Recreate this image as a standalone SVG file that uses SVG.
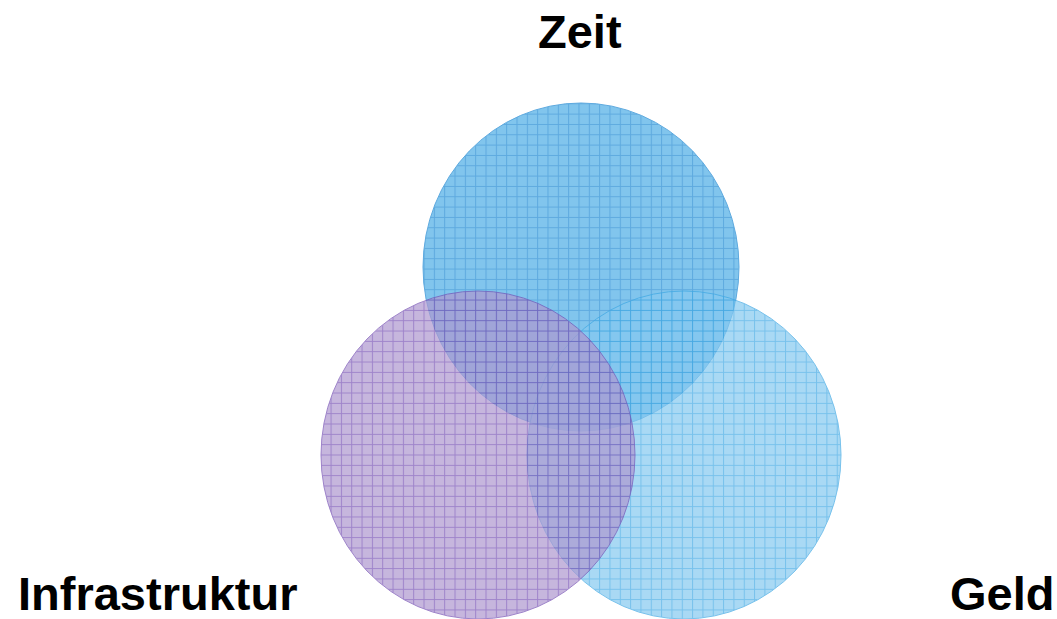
<svg xmlns="http://www.w3.org/2000/svg" width="1057" height="619" viewBox="0 0 1057 619">
  <style>
    .lbl { font-family: "Liberation Sans", Arial, sans-serif; font-weight: bold; font-size: 47px; fill: #000; }
    .c { opacity: 0.7; }
  </style>
  <defs>
    <pattern id="pTop" width="10.33" height="10.33" patternUnits="userSpaceOnUse">
      <rect width="10.33" height="10.33" fill="#4cade6"/>
      <path d="M0 0.5H10.33M0.5 0V10.33" stroke="#1a86d2" stroke-width="1"/>
    </pattern>
    <pattern id="pLeft" width="10.33" height="10.33" patternUnits="userSpaceOnUse">
      <rect width="10.33" height="10.33" fill="#ae98d0"/>
      <path d="M0 0.5H10.33M0.5 0V10.33" stroke="#7650b4" stroke-width="1"/>
    </pattern>
    <pattern id="pRight" width="10.33" height="10.33" patternUnits="userSpaceOnUse">
      <rect width="10.33" height="10.33" fill="#86c9f0"/>
      <path d="M0 0.5H10.33M0.5 0V10.33" stroke="#3ea8e4" stroke-width="1"/>
    </pattern>
  </defs>
  <rect width="1057" height="619" fill="#fff"/>
  <g id="zeit">
    <ellipse class="c" cx="581" cy="267" rx="158" ry="164" fill="url(#pTop)" stroke="#1a86d2" stroke-width="1"/>
    <text class="lbl" x="538" y="48">Zeit</text>
  </g>
  <g id="geld">
    <ellipse class="c" cx="684" cy="455" rx="157" ry="164" fill="url(#pRight)" stroke="#3ea8e4" stroke-width="1"/>
    <text class="lbl" x="950" y="610">Geld</text>
  </g>
  <g id="infrastruktur">
    <ellipse class="c" cx="478" cy="455" rx="157" ry="164" fill="url(#pLeft)" stroke="#7650b4" stroke-width="1"/>
    <text class="lbl" x="18" y="610">Infrastruktur</text>
  </g>
  <g id="connectors"></g>
</svg>
